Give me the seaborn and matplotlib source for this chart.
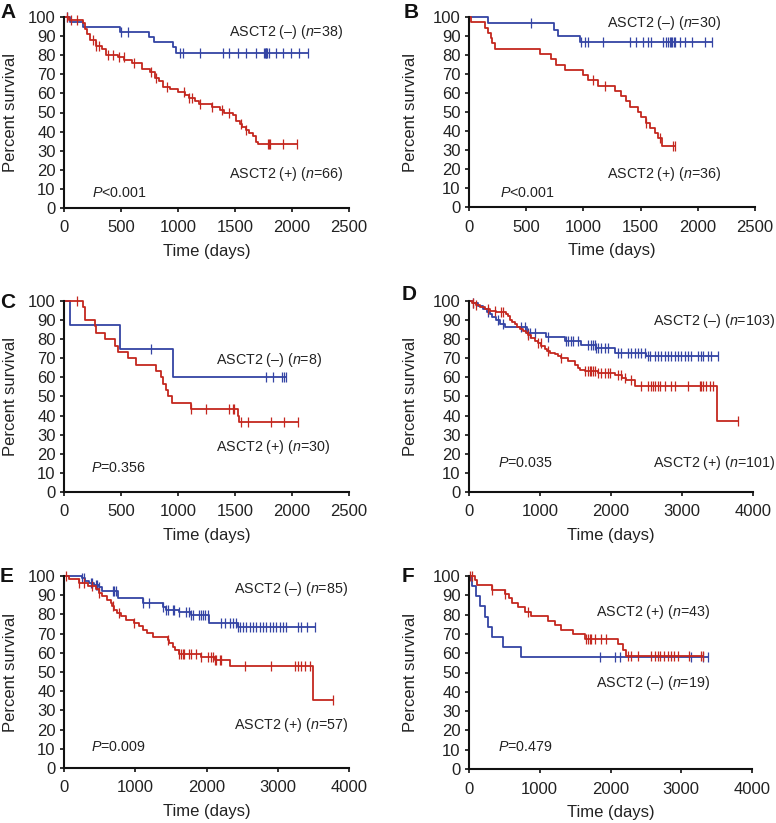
import numpy as np
import matplotlib
matplotlib.use("Agg")
import matplotlib.pyplot as plt
import seaborn as sns

sns.set_theme(style="ticks")
plt.rcParams["font.family"] = ["Liberation Sans", "DejaVu Sans"]
plt.rcParams["mathtext.fontset"] = "custom"
plt.rcParams["mathtext.rm"] = "Liberation Sans"
plt.rcParams["mathtext.it"] = "Liberation Sans:italic"

BLUE = "#3444a4"
RED = "#c4271f"

# ---- panel A ----
a_neg_t = [52, 169, 490, 743, 787, 956, 985]
a_neg_s = [97.4, 94.7, 92.1, 89.5, 86.8, 84.2, 81.2]
a_neg_c = [30, 500, 560, 1014, 1040, 1189, 1393, 1451, 1524, 1597, 1684, 1750, 1760,
           1768, 1775, 1785, 1800, 1859, 1917, 1990, 2063, 2136]
a_pos_t = [40, 165, 180, 200, 230, 280, 330, 370, 470, 530, 600, 680, 750, 800, 830, 870,
           930, 1000, 1060, 1100, 1150, 1180, 1300, 1370, 1400, 1480, 1510, 1540, 1560,
           1600, 1620, 1660, 1680, 1700]
a_pos_s = [98.5, 96.9, 93.9, 90.9, 87.9, 84.8, 83.3, 80.3, 78.8, 77.3, 75.8, 72.7, 71.2,
           68.2, 66.7, 63.6, 62.1, 60.6, 59.1, 57.6, 56.1, 54.5, 53.0, 51.5, 50.0, 48.5,
           45.5, 43.9, 42.4, 40.9, 39.4, 37.9, 34.8, 33.3]
a_pos_c = [30, 60, 110, 250, 285, 310, 390, 430, 480, 525, 610, 760, 810, 900, 1050, 1100,
           1120, 1190, 1300, 1390, 1450, 1550, 1600, 1790, 1800, 1810, 1920, 2040]

# ---- panel B ----
b_neg_t = [166, 740, 778, 974]
b_neg_s = [96.7, 93.3, 90.0, 86.7]
b_neg_c = [545, 983, 1012, 1040, 1172, 1405, 1464, 1522, 1566, 1595, 1697, 1726, 1740,
           1755, 1764, 1776, 1793, 1805, 1843, 1886, 1950, 2061, 2120]
b_pos_t = [20, 137, 170, 190, 205, 225, 618, 720, 764, 837, 997, 1040, 1128, 1274, 1332,
           1376, 1405, 1478, 1500, 1551, 1580, 1624, 1653, 1690]
b_pos_s = [97.2, 94.4, 91.7, 88.9, 86.1, 83.3, 80.6, 77.8, 75.0, 72.2, 69.4, 66.7, 63.9,
           61.1, 58.3, 55.6, 52.8, 50.0, 47.2, 44.4, 41.7, 38.9, 36.1, 31.9]
b_pos_c = [1085, 1187, 1551, 1668, 1784, 1800]

# ---- panel C ----
c_neg_t = [52, 495, 956]
c_neg_s = [87.5, 75.0, 60.0]
c_neg_c = [760, 1771, 1836, 1911, 1932, 1947]
c_pos_t = [165, 180, 270, 285, 358, 445, 475, 562, 635, 810, 854, 868, 898, 910, 947,
           1116, 1524, 1539]
c_pos_s = [96.7, 90.0, 86.7, 83.3, 80.0, 76.7, 73.3, 70.0, 66.7, 63.3, 60.0, 56.7, 53.3,
           50.0, 46.7, 43.3, 40.0, 36.7]
c_pos_c = [110, 1116, 1247, 1451, 1480, 1495, 1553, 1612, 1816, 1932, 2049]

# ---- panel D ----
d_neg_t = [50, 127, 200, 250, 291, 330, 380, 430, 502, 820, 1089, 1347, 1582, 1793, 2052,
           2498]
d_neg_s = [99.0, 97.5, 96.0, 94.5, 93.0, 91.5, 90.0, 88.0, 86.5, 83.5, 81.0, 79.0, 77.0,
           75.6, 73.0, 71.3]
d_neg_c = [56, 268, 408, 479, 737, 784, 831, 854, 925, 1113, 1371, 1394, 1441, 1465, 1535,
           1676, 1723, 1746, 1770, 1793, 1817, 1864, 1911, 1958, 2099, 2146, 2239, 2286,
           2333, 2380, 2427, 2474, 2521, 2545, 2615, 2662, 2709, 2756, 2803, 2850, 2897,
           2944, 2991, 3038, 3085, 3131, 3225, 3272, 3296, 3366, 3413, 3507]
d_pos_t = [40, 100, 160, 230, 300, 380, 460, 520, 549, 580, 610, 643, 680, 714, 760, 800,
           831, 880, 930, 972, 1020, 1066, 1100, 1136, 1207, 1260, 1300, 1400, 1488, 1530,
           1559, 1629, 1817, 2052, 2150, 2216, 2333, 3495]
d_pos_s = [99.0, 98.0, 97.0, 96.0, 95.0, 94.5, 94.0, 93.0, 92.0, 90.0, 89.0, 88.0, 86.5,
           85.5, 84.5, 83.0, 82.0, 80.5, 79.0, 78.0, 76.5, 75.0, 74.0, 73.0, 72.0, 71.0,
           70.0, 68.5, 66.3, 65.0, 64.0, 63.2, 62.3, 61.0, 59.5, 58.5, 55.3, 37.2]
d_pos_c = [56, 103, 268, 362, 455, 479, 831, 972, 1019, 1113, 1300, 1629, 1676, 1700, 1723,
           1746, 1770, 1817, 1864, 1911, 1958, 1981, 2099, 2146, 2192, 2286, 2427, 2521,
           2568, 2592, 2615, 2662, 2685, 2756, 2850, 2897, 3085, 3249, 3272, 3296, 3343,
           3390, 3437, 3789]

# ---- panel E ----
e_neg_t = [258, 300, 350, 420, 493, 540, 760, 1103, 1385, 1430, 1620, 1784, 2042, 2441]
e_neg_s = [98.8, 97.6, 96.5, 95.3, 94.1, 92.4, 88.5, 86.0, 84.0, 82.5, 81.0, 79.7, 75.5,
           73.4]
e_neg_c = [258, 282, 376, 399, 446, 469, 493, 681, 704, 728, 1103, 1197, 1385, 1432, 1455,
           1526, 1549, 1620, 1714, 1761, 1784, 1808, 1901, 1925, 1948, 1972, 2019, 2207,
           2254, 2324, 2371, 2418, 2441, 2465, 2512, 2559, 2606, 2653, 2700, 2746, 2793,
           2840, 2887, 2934, 2981, 3028, 3075, 3122, 3286, 3333, 3404, 3521]
e_pos_t = [70, 211, 330, 446, 493, 540, 610, 657, 680, 704, 750, 798, 869, 986, 1056, 1103,
           1170, 1244, 1455, 1480, 1526, 1560, 1620, 1925, 2113, 2324, 3498]
e_pos_s = [98.2, 96.5, 94.7, 93.0, 91.2, 89.5, 87.7, 86.0, 84.2, 82.5, 80.7, 79.0, 77.2,
           75.4, 73.7, 71.9, 70.2, 68.4, 66.7, 64.9, 63.2, 61.4, 59.6, 57.9, 56.1, 53.0,
           35.6]
e_pos_c = [23, 211, 282, 399, 493, 681, 775, 986, 1455, 1620, 1643, 1667, 1690, 1761, 1784,
           1854, 1925, 2019, 2066, 2089, 2113, 2136, 2183, 2207, 2535, 2911, 3239, 3286,
           3333, 3380, 3451, 3779]

# ---- panel F ----
f_neg_t = [38, 94, 155, 226, 273, 320, 484, 742]
f_neg_s = [94.7, 89.5, 84.2, 78.9, 73.7, 68.4, 63.2, 57.9]
f_neg_c = [1847, 2058, 2129, 3139, 3304, 3374]
f_pos_t = [85, 108, 320, 508, 560, 602, 695, 790, 883, 1118, 1212, 1306, 1471, 1635, 2105,
           2176, 2223]
f_pos_s = [97.7, 95.3, 93.0, 90.7, 88.4, 86.0, 83.7, 81.4, 79.1, 76.7, 74.4, 72.1, 69.8,
           67.4, 64.6, 61.5, 58.8]
f_pos_c = [14, 38, 320, 508, 836, 1659, 1682, 1706, 1729, 1776, 1870, 1941, 2246, 2293,
           2387, 2575, 2622, 2669, 2693, 2763, 2810, 2857, 2904, 2951, 3116, 3280, 3304]

neg_labels = ["ASCT2 (–) ($\\it{n}$=38)", "ASCT2 (–) ($\\it{n}$=30)", "ASCT2 (–) ($\\it{n}$=8)",
              "ASCT2 (–) ($\\it{n}$=103)", "ASCT2 (–) ($\\it{n}$=85)", "ASCT2 (–) ($\\it{n}$=19)"]
pos_labels = ["ASCT2 (+) ($\\it{n}$=66)", "ASCT2 (+) ($\\it{n}$=36)", "ASCT2 (+) ($\\it{n}$=30)",
              "ASCT2 (+) ($\\it{n}$=101)", "ASCT2 (+) ($\\it{n}$=57)", "ASCT2 (+) ($\\it{n}$=43)"]
p_labels = ["$\\it{P}$<0.001", "$\\it{P}$<0.001", "$\\it{P}$=0.356",
            "$\\it{P}$=0.035", "$\\it{P}$=0.009", "$\\it{P}$=0.479"]
letters = ["A", "B", "C", "D", "E", "F"]
xmax = [2500, 2500, 2500, 4000, 4000, 4000]

panels = [
    (a_neg_t, a_neg_s, a_neg_c, a_pos_t, a_pos_s, a_pos_c),
    (b_neg_t, b_neg_s, b_neg_c, b_pos_t, b_pos_s, b_pos_c),
    (c_neg_t, c_neg_s, c_neg_c, c_pos_t, c_pos_s, c_pos_c),
    (d_neg_t, d_neg_s, d_neg_c, d_pos_t, d_pos_s, d_pos_c),
    (e_neg_t, e_neg_s, e_neg_c, e_pos_t, e_pos_s, e_pos_c),
    (f_neg_t, f_neg_s, f_neg_c, f_pos_t, f_pos_s, f_pos_c),
]

W, H = 776, 823
# axes boxes in pixels: left, top(100), right, bottom(0)
boxes = [(64, 17, 349, 208), (469, 17, 755, 207), (64, 301, 349, 492),
         (469, 301, 753, 492), (64, 576, 349, 768), (469, 576, 752, 769)]
# text positions in data coords: (neg label x, y), (pos label x, y), (P x, y)
text_pos = [
    ((2447, 92.0), (2447, 17.8), (245, 7.9)),
    ((2203, 96.8), (2203, 17.4), (271, 7.4)),
    ((2262, 69.0), (2333, 23.6), (235, 12.6)),
    ((4310, 89.5), (4310, 15.2), (408, 15.2)),
    ((3985, 93.2), (3985, 22.4), (378, 10.9)),
    ((3406, 44.6), (3406, 81.3), (410, 11.4)),
]
letter_pos = [(0, 12), (404, 12), (0, 302), (402, 294), (0, 576), (402, 577)]
ylabel_pad = [7, 11, 7, 11, 7, 11]


def step_at(times, surv, t):
    idx = np.searchsorted(times, t, side="right")
    vals = np.r_[100.0, surv]
    return vals[idx]


def draw_km(ax, times, surv, cens, color):
    end = max(max(cens), max(times))
    x = [0] + list(times) + [end]
    y = [100.0] + list(surv) + [surv[-1]]
    sns.lineplot(x=x, y=y, ax=ax, color=color, lw=1.3, drawstyle="steps-post",
                 sort=False, estimator=None, clip_on=False)
    cy = step_at(np.array(times), np.array(surv), np.array(cens))
    ax.plot(cens, cy, ls="none", marker="|", ms=7, mew=0.9, color=color, clip_on=False)


fig = plt.figure(figsize=(W / 100, H / 100), dpi=100)

for i, (nt, ns, nc, pt, ps, pc) in enumerate(panels):
    l, t, r, b = boxes[i]
    ax = fig.add_axes([l / W, 1 - b / H, (r - l) / W, (b - t) / H])
    draw_km(ax, nt, ns, nc, BLUE)
    draw_km(ax, pt, ps, pc, RED)
    ax.set_xlim(0, xmax[i])
    ax.set_ylim(0, 100)
    ax.set_xticks(np.arange(0, xmax[i] + 1, 500 if xmax[i] == 2500 else 1000))
    ax.set_yticks(np.arange(0, 101, 10))
    sns.despine(ax=ax)
    for s in ["left", "bottom"]:
        ax.spines[s].set_linewidth(1.5)
        ax.spines[s].set_color("#111111")
    ax.tick_params(axis="both", direction="out", length=3, width=1.2, color="#111111",
                   labelsize=12, labelcolor="#222222")
    ax.tick_params(axis="x", pad=6)
    ax.tick_params(axis="y", pad=3)
    ax.set_xlabel("Time (days)", fontsize=12, color="#222222", labelpad=6)
    ax.set_ylabel("Percent survival", fontsize=12, color="#222222", labelpad=ylabel_pad[i])

    (nx, ny), (px, py), (qx, qy) = text_pos[i]
    ax.text(nx, ny, neg_labels[i], ha="right", va="center", fontsize=10.3, color="#222222",
            clip_on=False)
    ax.text(px, py, pos_labels[i], ha="right", va="center", fontsize=10.3, color="#222222",
            clip_on=False)
    ax.text(qx, qy, p_labels[i], ha="left", va="center", fontsize=10.3, color="#222222")

    lx, ly = letter_pos[i]
    fig.text(lx / W, 1 - ly / H, letters[i], fontsize=15, fontweight="bold",
             ha="left", va="center", color="#111111")

fig.savefig("out.png", dpi=100)
